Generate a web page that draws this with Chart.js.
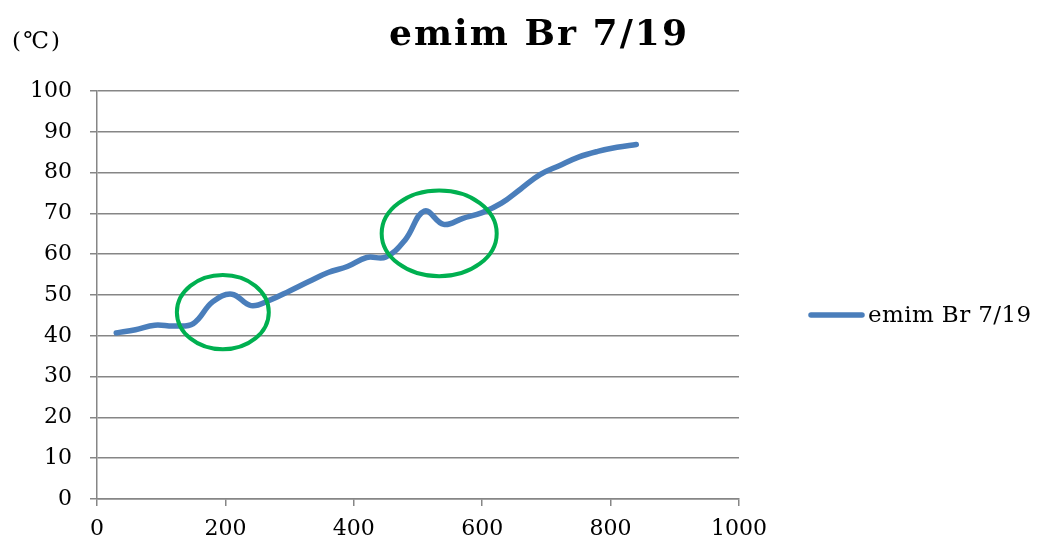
<!DOCTYPE html>
<html>
<head>
<meta charset="utf-8">
<script src="https://cdn.jsdelivr.net/npm/chart.js@4/dist/chart.umd.min.js"></script>
<style>
  html, body { margin: 0; padding: 0; background: #fff; }
  #wrap { width: 1037px; height: 550px; position: relative; }
</style>
</head>
<body>
<div id="wrap"><canvas id="c" width="1037" height="550"></canvas></div>
<script>
// Elapsed time (s) and temperature (℃) readings
const times = [30, 60, 90, 120, 150, 180, 210, 240, 270, 300, 330, 360, 390, 420,
               450, 480, 510, 540, 570, 600, 630, 660, 690, 720, 750, 780, 810, 840];
const temps = [40.7, 41.5, 42.6, 42.4, 43.0, 48.3, 50.2, 47.4, 48.8, 51.0, 53.3, 55.5, 57.0, 59.2,
               59.3, 63.5, 70.6, 67.3, 68.8, 70.2, 72.5, 76.0, 79.5, 81.7, 83.8, 85.2, 86.2, 86.9];

const seriesName = 'emim Br 7/19';
const unitLabel = '(℃)';

// Highlighted regions (data units): centre x, centre y, half-width, half-height
const markCx = [196, 533];
const markCy = [45.8, 65.1];
const markRx = [71.6, 89.6];
const markRy = [9.1, 10.5];

const SERIF = '"DejaVu Serif", "Liberation Serif", serif';
const GRID = '#868686';
const BLUE = '#4A7EBB';
const GREEN = '#00B050';

const points = times.map((t, i) => ({ x: t, y: temps[i] }));

// draw text stretched with letter spacing to a given overall width
function spacedText(ctx, text, x, y, width, align) {
  ctx.letterSpacing = '0px';
  const w0 = ctx.measureText(text).width;
  const sp = Math.max(0, (width - w0) / Math.max(1, text.length - 1));
  ctx.letterSpacing = sp.toFixed(2) + 'px';
  let left = x;
  if (align === 'center') left = x - width / 2;
  ctx.textAlign = 'left';
  ctx.fillText(text, left, y);
  ctx.letterSpacing = '0px';
}

const decor = {
  id: 'decor',
  afterDatasetsDraw(chart) {
    const { ctx, scales: { x, y } } = chart;
    ctx.save();
    // green ellipses around the two bumps
    ctx.strokeStyle = GREEN;
    ctx.lineWidth = 4;
    for (let i = 0; i < markCx.length; i++) {
      const cx = x.getPixelForValue(markCx[i]);
      const cy = y.getPixelForValue(markCy[i]);
      const rx = Math.abs(x.getPixelForValue(markCx[i] + markRx[i]) - cx);
      const ry = Math.abs(y.getPixelForValue(markCy[i] + markRy[i]) - cy);
      ctx.beginPath();
      ctx.ellipse(cx, cy, rx, ry, 0, 0, Math.PI * 2);
      ctx.stroke();
    }
    ctx.restore();
  },
  afterDraw(chart) {
    const { ctx } = chart;
    ctx.save();
    ctx.fillStyle = '#000';
    ctx.textBaseline = 'middle';
    // title
    ctx.font = 'bold 36px ' + SERIF;
    spacedText(ctx, seriesName, 538, 36, 298, 'center');
    // unit
    ctx.font = '23px ' + SERIF;
    spacedText(ctx, unitLabel, 12, 42, 48, 'left');
    // legend
    ctx.strokeStyle = BLUE;
    ctx.lineWidth = 5.5;
    ctx.lineCap = 'round';
    ctx.beginPath();
    ctx.moveTo(811, 315);
    ctx.lineTo(862, 315);
    ctx.stroke();
    ctx.font = '23px ' + SERIF;
    spacedText(ctx, seriesName, 868, 316, 163, 'left');
    ctx.restore();
  }
};

new Chart(document.getElementById('c'), {
  type: 'line',
  data: {
    datasets: [{
      label: seriesName,
      data: points,
      borderColor: BLUE,
      backgroundColor: BLUE,
      borderWidth: 5.5,
      pointRadius: 0,
      tension: 0.4,
      borderCapStyle: 'round',
      fill: false
    }]
  },
  options: {
    responsive: false,
    animation: false,
    layout: { padding: { top: 91, right: 298, bottom: 0, left: 0 } },
    plugins: {
      legend: { display: false },
      title: { display: false },
      tooltip: { enabled: false }
    },
    scales: {
      x: {
        type: 'linear',
        min: 0, max: 1000,
        afterFit: s => { s.height = 51; },
        ticks: { stepSize: 200, color: '#000', padding: 10, font: { family: SERIF, size: 22 }, maxRotation: 0,
                 callback: v => String(v) },
        grid: { drawOnChartArea: false, drawTicks: true, tickLength: 7, color: GRID, lineWidth: 1.5 },
        border: { color: GRID, width: 1.5 }
      },
      y: {
        type: 'linear',
        min: 0, max: 100,
        afterFit: s => { s.width = 97; },
        ticks: { stepSize: 10, color: '#000', padding: 18, font: { family: SERIF, size: 22 },
                 callback: v => String(v) },
        grid: { drawTicks: true, tickLength: 7, color: GRID, lineWidth: 1.5 },
        border: { color: GRID, width: 1.5 }
      }
    }
  },
  plugins: [decor]
});
</script>
</body>
</html>
